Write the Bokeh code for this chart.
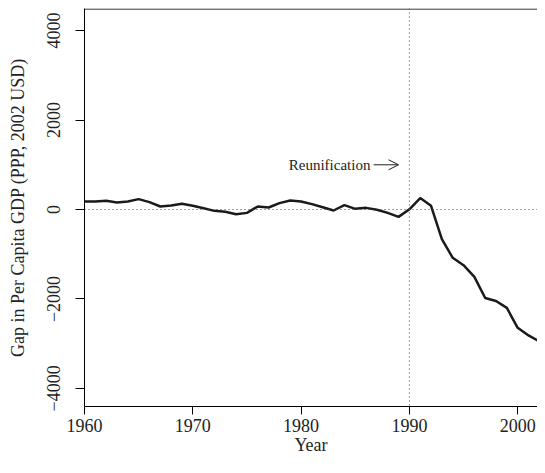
from bokeh.plotting import figure
from bokeh.models import Span, Arrow, OpenHead, Range1d, FixedTicker, Label
from bokeh.embed import file_html
from bokeh.resources import INLINE

years = list(range(1960, 2004))
gap = [180, 180, 195, 157, 180, 232, 165, 67, 90, 127,
       82, 30, -30, -52, -105, -75, 67, 45, 142, 202,
       180, 120, 52, -22, 97, 15, 37, -7, -75, -165,
       5, 255, 82, -660, -1080, -1245, -1505, -1978, -2045, -2200,
       -2645, -2815, -2950, -3330]

x_ticks = [1960, 1970, 1980, 1990, 2000]
y_ticks = [-4000, -2000, 0, 2000, 4000]
y_tick_labels = ["\u22124000", "\u22122000", "0", "2000", "4000"]

reunification_year = 1990
annotation_text = "Reunification"
annotation_y = 1000
arrow_start = 1986.7
arrow_end = 1989.0

FONT = "Liberation Serif"

p = figure(width=537, height=457, output_backend="svg", toolbar_location=None,
           x_range=Range1d(1960, 2001.83), y_range=Range1d(-4404, 4494),
           min_border_left=84, min_border_right=0, min_border_top=8, min_border_bottom=0)
p.outline_line_color = None
p.grid.visible = False
p.background_fill_color = "white"
p.border_fill_color = "white"

# top border of the box
p.add_layout(Span(location=4494 - 12, dimension="width", line_color="black", line_width=1))

p.add_layout(Span(location=0, dimension="width", line_color="#444444",
                  line_width=1, line_dash="1 3"))
p.add_layout(Span(location=reunification_year, dimension="height", line_color="#444444",
                  line_width=1, line_dash="1 3"))

p.line(years, gap, line_color="#1a1a1a", line_width=2.5)

p.add_layout(Label(x=arrow_start - 0.3, y=annotation_y, text=annotation_text,
                   text_align="right", text_baseline="middle",
                   text_font=FONT, text_font_size="15px", text_color="#222222"))
p.add_layout(Arrow(x_start=arrow_start, y_start=annotation_y, x_end=arrow_end, y_end=annotation_y,
                   line_color="#222222", line_width=1,
                   end=OpenHead(size=10, line_color="#222222", line_width=1)))

for ax in (p.xaxis[0], p.yaxis[0]):
    ax.axis_line_color = "black"
    ax.axis_line_width = 1
    ax.major_tick_line_color = "black"
    ax.major_tick_out = 9
    ax.major_tick_in = 0
    ax.minor_tick_line_color = None
    ax.major_label_text_font = FONT
    ax.major_label_text_font_size = "18px"
    ax.major_label_text_color = "#222222"
    ax.axis_label_text_font = FONT
    ax.axis_label_text_font_size = "18px"
    ax.axis_label_text_font_style = "normal"
    ax.axis_label_text_color = "#222222"

p.xaxis.ticker = FixedTicker(ticks=x_ticks)
p.xaxis.axis_label = "Year"
p.xaxis.major_tick_out = 8
p.xaxis.major_label_standoff = 4
p.xaxis.axis_label_standoff = 0

p.yaxis.ticker = FixedTicker(ticks=y_ticks)
p.yaxis.major_label_overrides = {t: l for t, l in zip(y_ticks, y_tick_labels)}
p.yaxis.major_label_orientation = "vertical"
p.yaxis.axis_label = "Gap in Per Capita GDP (PPP, 2002 USD)"
p.yaxis.major_label_standoff = 15
p.yaxis.axis_label_standoff = 17

open("out.html", "w").write(file_html(p, INLINE))
